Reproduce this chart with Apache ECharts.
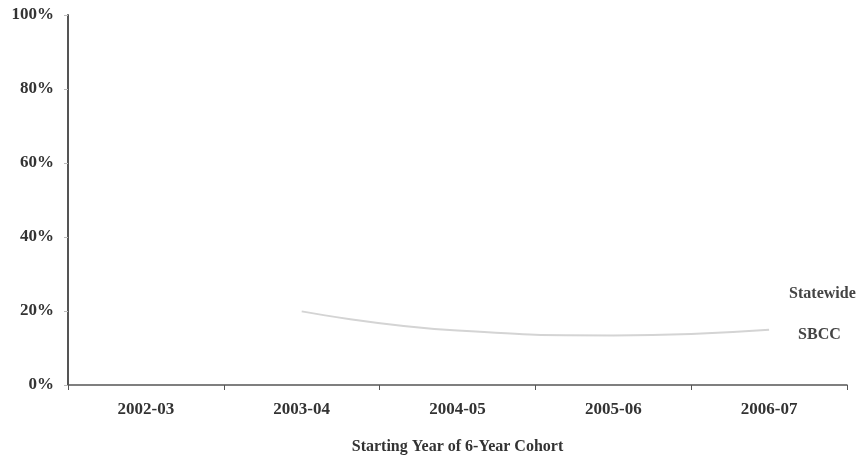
<!DOCTYPE html>
<html>
<head>
<meta charset="UTF-8">
<title>cohort</title>
<script src="https://cdn.jsdelivr.net/npm/echarts@6/dist/echarts.min.js"></script>
<style>
  html, body { margin: 0; padding: 0; background: #fff; }
  #chart { width: 867px; height: 460px; }
</style>
</head>
<body>
<div id="chart"></div>
<script type="text/javascript">
var cohorts = ['2002-03', '2003-04', '2004-05', '2005-06', '2006-07'];
var sbcc = [null, 19.9, 14.7, 13.4, 14.9];
var statewide = [null, null, null, null, 24.5];
var yTicks = [0, 20, 40, 60, 80, 100];

var font = 'Liberation Serif';
var myChart = echarts.init(document.getElementById('chart'));
var option = {
  animation: false,
  grid: { left: 68, right: 20, top: 15, bottom: 72 },
  xAxis: {
    type: 'category',
    data: cohorts,
    boundaryGap: true,
    name: 'Starting Year of 6-Year Cohort',
    nameLocation: 'middle',
    nameGap: 54,
    nameTextStyle: { fontFamily: font, fontSize: 16, fontWeight: 'bold', color: '#333' },
    axisLine: { lineStyle: { color: '#555', width: 1.5 } },
    axisTick: { show: true, length: 5, lineStyle: { color: '#555' } },
    axisLabel: { fontFamily: font, fontSize: 17, fontWeight: 'bold', color: '#333', margin: 16 }
  },
  yAxis: {
    type: 'value',
    min: yTicks[0],
    max: yTicks[yTicks.length - 1],
    interval: 20,
    splitLine: { show: false },
    axisLine: { show: true, lineStyle: { color: '#555', width: 2 } },
    axisTick: { show: true, length: 4, lineStyle: { color: '#bbb' } },
    axisLabel: { formatter: '{value}%', fontFamily: font, fontSize: 17, fontWeight: 'bold', color: '#333', margin: 14 }
  },
  series: [
    {
      name: 'SBCC',
      type: 'line',
      data: sbcc,
      smooth: true,
      showSymbol: false,
      lineStyle: { color: '#d4d4d4', width: 2 },
      endLabel: {
        show: true,
        formatter: '{a}',
        distance: 29,
        offset: [0, 5],
        fontFamily: font, fontSize: 16, fontWeight: 'bold', color: '#444'
      }
    },
    {
      name: 'Statewide',
      type: 'line',
      data: statewide,
      symbol: 'circle',
      symbolSize: 2,
      showSymbol: true,
      itemStyle: { color: 'rgba(0,0,0,0)' },
      lineStyle: { color: 'rgba(0,0,0,0)' },
      label: {
        show: true,
        position: 'right',
        distance: 19,
        formatter: '{a}',
        fontFamily: font, fontSize: 16, fontWeight: 'bold', color: '#444'
      }
    }
  ]
};
myChart.setOption(option);
</script>
</body>
</html>
